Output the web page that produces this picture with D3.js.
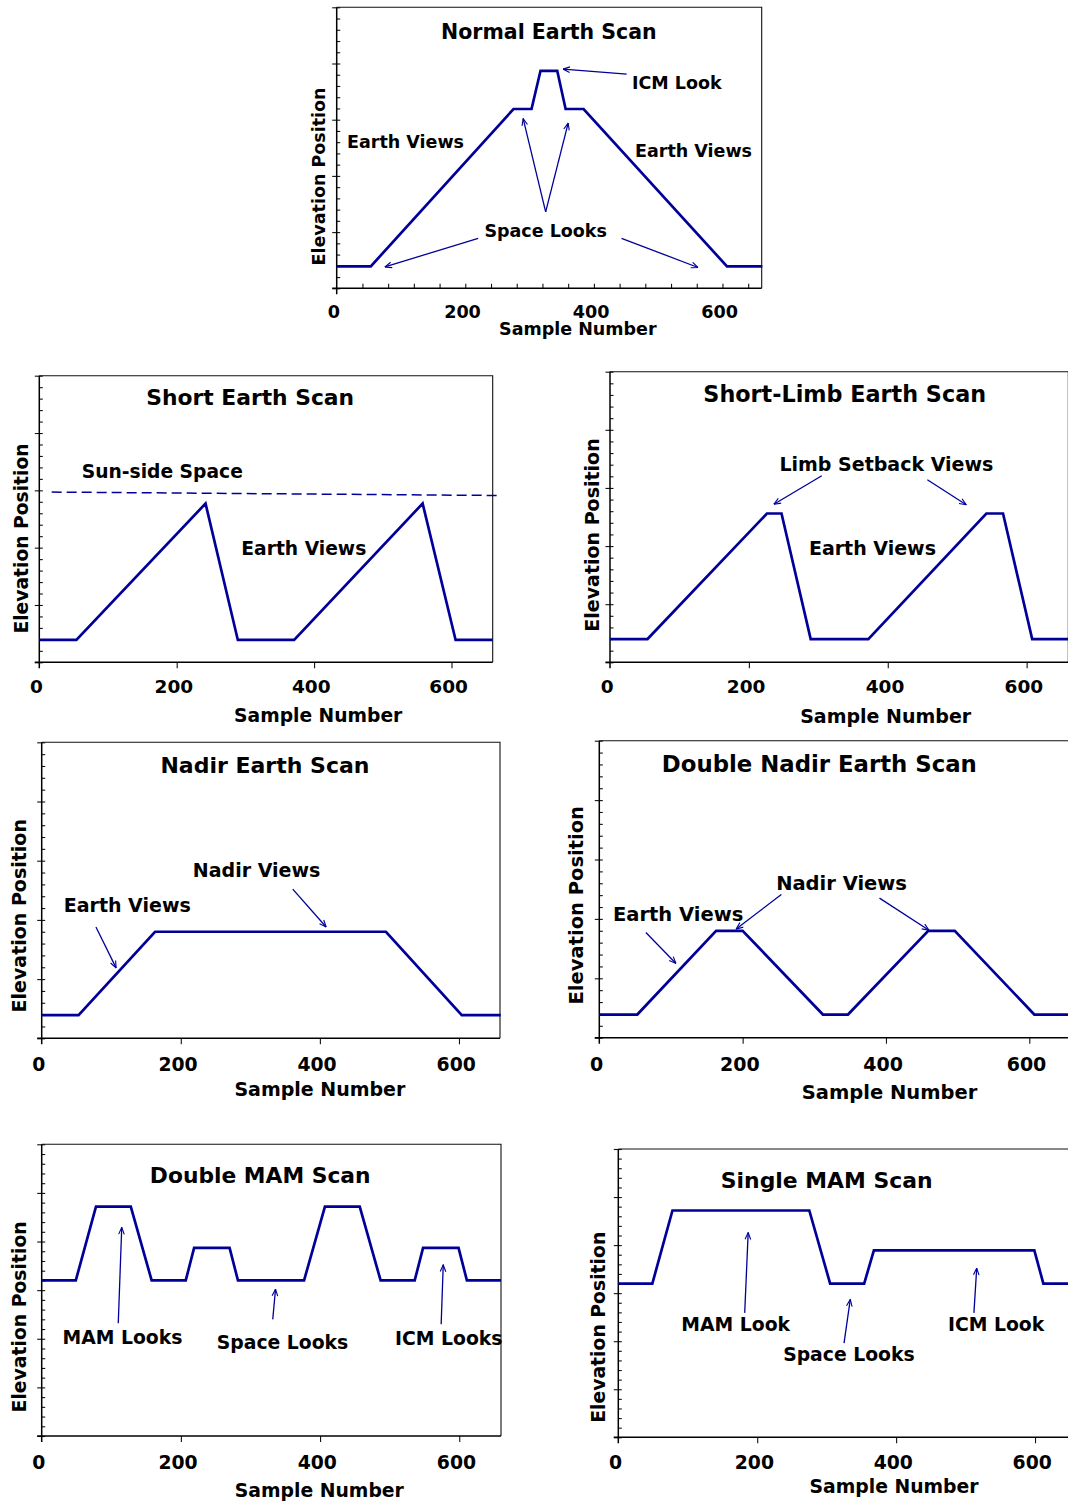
<!DOCTYPE html>
<html>
<head>
<meta charset="utf-8">
<script src="https://cdn.jsdelivr.net/npm/d3@7"></script>
<style>
  body { margin: 0; background: #fff; }
  svg { display: block; }
</style>
</head>
<body>
<div id="chart-area"></div>
<script>
// scan profiles: sample number vs elevation position
let normalX = [0, 53, 275, 303, 317, 343, 356, 384, 607, 662]
let normalY = [0.39, 0.39, 3.19, 3.19, 3.87, 3.87, 3.19, 3.19, 0.39, 0.39]

let shortX = [0, 54, 242, 289, 371, 558, 606, 660]
let shortY = [0.39, 0.39, 2.77, 0.39, 0.39, 2.77, 0.39, 0.39]
let sunSideX = [18, 668]
let sunSideY = [2.97, 2.91]

let limbX = [0, 54, 226, 247, 289, 372, 542, 566, 608, 660]
let limbY = [0.40, 0.40, 2.56, 2.56, 0.40, 0.40, 2.56, 2.56, 0.40, 0.40]

let nadirX = [0, 53, 163, 495, 604, 660]
let nadirY = [0.39, 0.39, 1.80, 1.80, 0.39, 0.39]

let dblNadirX = [0, 53, 163, 200, 312, 347, 459, 496, 607, 660]
let dblNadirY = [0.39, 0.39, 1.80, 1.80, 0.39, 0.39, 1.80, 1.80, 0.39, 0.39]

let dblMamX = [0, 49, 78, 128, 158, 207, 219, 270, 282, 377, 407, 457, 487, 536, 548, 599, 611, 660]
let dblMamY = [3.2, 3.2, 4.72, 4.72, 3.2, 3.2, 3.87, 3.87, 3.2, 3.2, 4.72, 4.72, 3.2, 3.2, 3.87, 3.87, 3.2, 3.2]

let singleMamX = [0, 49, 78, 275, 305, 354, 368, 599, 612, 660]
let singleMamY = [3.2, 3.2, 4.72, 4.72, 3.2, 3.2, 3.89, 3.89, 3.2, 3.2]

let xTickLabels = [0, 200, 400, 600]

// annotations, in data units
let normalNotes = [
  { text: "Normal Earth Scan", x: 330, y: 4.56, title: true },
  { text: "ICM Look", x: 529, y: 3.65 },
  { text: "Earth Views", x: 107, y: 2.60 },
  { text: "Earth Views", x: 555, y: 2.44 },
  { text: "Space Looks", x: 325, y: 1.02 }
]
let normalArrows = [
  [451, 3.81, 352, 3.90],
  [325, 1.36, 290, 3.02],
  [325, 1.36, 360, 2.94],
  [220, 0.89, 75, 0.38],
  [443, 0.89, 562, 0.37]
]

let shortNotes = [
  { text: "Short Earth Scan", x: 307, y: 4.62, title: true },
  { text: "Sun-side Space", x: 179, y: 3.32 },
  { text: "Earth Views", x: 385, y: 1.99 }
]

let limbNotes = [
  { text: "Short-Limb Earth Scan", x: 338, y: 4.62, title: true },
  { text: "Limb Setback Views", x: 398, y: 3.41 },
  { text: "Earth Views", x: 378, y: 1.97 }
]
let limbArrows = [
  [305, 3.21, 236, 2.72],
  [457, 3.14, 513, 2.71]
]

let nadirNotes = [
  { text: "Nadir Earth Scan", x: 321, y: 4.60, title: true },
  { text: "Nadir Views", x: 309, y: 2.84 },
  { text: "Earth Views", x: 123, y: 2.26 }
]
let nadirArrows = [
  [361, 2.52, 409, 1.88],
  [78, 1.88, 107, 1.19]
]

let dblNadirNotes = [
  { text: "Double Nadir Earth Scan", x: 307, y: 4.60, title: true },
  { text: "Nadir Views", x: 338, y: 2.59 },
  { text: "Earth Views", x: 110, y: 2.08 }
]
let dblNadirArrows = [
  [254, 2.41, 191, 1.83],
  [391, 2.35, 460, 1.81],
  [65, 1.77, 107, 1.25]
]

let dblMamNotes = [
  { text: "Double MAM Scan", x: 314, y: 5.36, title: true },
  { text: "MAM Looks", x: 116, y: 2.03 },
  { text: "Space Looks", x: 346, y: 1.93 },
  { text: "ICM Looks", x: 585, y: 2.01 }
]
let dblMamArrows = [
  [110, 2.32, 115, 4.29],
  [332, 2.40, 336, 3.02],
  [574, 2.30, 577, 3.52]
]

let singleMamNotes = [
  { text: "Single MAM Scan", x: 300, y: 5.35, title: true },
  { text: "MAM Look", x: 169, y: 2.34 },
  { text: "Space Looks", x: 332, y: 1.73 },
  { text: "ICM Look", x: 544, y: 2.34 }
]
let singleMamArrows = [
  [182, 2.59, 187, 4.26],
  [325, 1.96, 334, 2.87],
  [512, 2.59, 516, 3.52]
]

const FONT = "'DejaVu Sans', Verdana, sans-serif"
const NAVY = "#000099"

let canvasWidth = 1068
let canvasHeight = 1502

let svg = d3.select("#chart-area").append("svg")
  .attr("width", canvasWidth)
  .attr("height", canvasHeight)

svg.append("defs").append("marker")
  .attr("id", "arrow")
  .attr("viewBox", "0 0 10 10")
  .attr("refX", 9.5)
  .attr("refY", 5)
  .attr("markerWidth", 8)
  .attr("markerHeight", 8)
  .attr("markerUnits", "userSpaceOnUse")
  .attr("orient", "auto")
  .append("path")
    .attr("d", "M1,1.5 L9.5,5 L1,8.5")
    .attr("fill", "none")
    .attr("stroke", NAVY)
    .attr("stroke-width", 1.4)

// box = [left, top, right, bottom] of the plot frame in pixels
let panels = [
  { xs: normalX, ys: normalY, notes: normalNotes, arrows: normalArrows,
    box: [336.7, 7.3, 761.7, 288.3], xMax: 661, yMax: 5, minorX: true,
    fs: 17.5, ts: 20.5, tickFs: 17.6, tickDy: 23.5, xLabelAt: 375, xLabelDy: 41, yLabelAt: 1.99, yLabelDx: 17.5 },
  { xs: shortX, ys: shortY, notes: shortNotes, arrows: [],
    dashX: sunSideX, dashY: sunSideY,
    box: [39.3, 375.7, 492.7, 662.3], xMax: 660, yMax: 5,
    fs: 18.7, ts: 21.8, tickFs: 18.5, tickDy: 24, xLabelAt: 406, xLabelDy: 53.5, yLabelAt: 2.16, yLabelDx: 18.3 },
  { xs: limbX, ys: limbY, notes: limbNotes, arrows: limbArrows,
    box: [610, 371.7, 1068.3, 662.3], xMax: 660, yMax: 5,
    fs: 19, ts: 22.3, tickFs: 18.5, tickDy: 24.5, xLabelAt: 397, xLabelDy: 53.7, yLabelAt: 2.19, yLabelDx: 18.3 },
  { xs: nadirX, ys: nadirY, notes: nadirNotes, arrows: nadirArrows,
    box: [41.7, 742.3, 500, 1038.3], xMax: 659, yMax: 5,
    fs: 19, ts: 22, tickFs: 18.8, tickDy: 26, xLabelAt: 400, xLabelDy: 50.7, yLabelAt: 2.07, yLabelDx: 22.4 },
  { xs: dblNadirX, ys: dblNadirY, notes: dblNadirNotes, arrows: dblNadirArrows,
    box: [599.3, 740.7, 1072.3, 1037.7], xMax: 660, yMax: 5,
    fs: 19.5, ts: 22.8, tickFs: 19, tickDy: 26.6, xLabelAt: 405, xLabelDy: 54.6, yLabelAt: 2.23, yLabelDx: 22.6 },
  { xs: dblMamX, ys: dblMamY, notes: dblMamNotes, arrows: dblMamArrows,
    box: [41.7, 1144.3, 501, 1436], xMax: 660, yMax: 6,
    fs: 18.8, ts: 21.8, tickFs: 18.8, tickDy: 26.7, xLabelAt: 399, xLabelDy: 54, yLabelAt: 2.45, yLabelDx: 22.4 },
  { xs: singleMamX, ys: singleMamY, notes: singleMamNotes, arrows: singleMamArrows,
    box: [618.3, 1149, 1076.7, 1437.3], xMax: 660, yMax: 6,
    fs: 18.8, ts: 21.9, tickFs: 18.8, tickDy: 25.4, xLabelAt: 397, xLabelDy: 49.4, yLabelAt: 2.29, yLabelDx: 20 }
]

panels.forEach(p => drawPanel(p))

function drawPanel(p) {
  let [left, top, right, bottom] = p.box

  let x = d3.scaleLinear()
    .domain([0, p.xMax])
    .range([left, right])

  let y = d3.scaleLinear()
    .domain([0, p.yMax])
    .range([bottom, top])

  let g = svg.append("g")

  // top and right edges of the frame
  g.append("path")
    .attr("d", "M" + left + "," + top + "H" + right + "V" + bottom)
    .attr("fill", "none")
    .attr("stroke", "#111")
    .attr("stroke-width", 1.1)

  // y ticks: minor ones inside, major ones crossing the axis
  let yMinor = d3.range(0, p.yMax * 5 + 1).map(i => i / 5)
  let yMajor = d3.range(0, p.yMax + 1)
  g.append("g")
    .attr("transform", "translate(" + left + ",0)")
    .call(d3.axisLeft(y).tickValues(yMinor).tickSize(-3.5).tickFormat(""))
    .call(a => a.select(".domain").remove())
  g.append("g")
    .attr("transform", "translate(" + left + ",0)")
    .call(d3.axisLeft(y).tickValues(yMajor).tickSize(4.5).tickFormat(""))
    .call(a => a.select(".domain").remove())

  // x ticks
  if (p.minorX) {
    g.append("g")
      .attr("transform", "translate(0," + bottom + ")")
      .call(d3.axisBottom(x).tickValues(d3.range(40, p.xMax, 40)).tickSize(-4.5).tickFormat(""))
      .call(a => a.select(".domain").remove())
  } else {
    g.append("g")
      .attr("transform", "translate(0," + bottom + ")")
      .call(d3.axisBottom(x).tickValues(xTickLabels.slice(1)).tickSize(6).tickFormat(""))
      .call(a => a.select(".domain").remove())
  }
  g.selectAll(".tick line").attr("stroke", "#111").attr("stroke-width", 1.1)

  // tick labels
  let labels = g.append("g")
    .attr("transform", "translate(0," + bottom + ")")
    .call(d3.axisBottom(x).tickValues(xTickLabels).tickSize(0).tickFormat(d3.format("d")))
  labels.select(".domain").remove()
  labels.selectAll("text")
    .attr("x", -3.3)
    .attr("y", p.tickDy)
    .attr("dy", null)
    .attr("dominant-baseline", "central")
    .attr("font-family", FONT)
    .attr("font-weight", "bold")
    .attr("font-size", p.tickFs)
    .attr("fill", "#000")

  // axis lines
  g.append("line")
    .attr("x1", left).attr("x2", left)
    .attr("y1", top).attr("y2", bottom + 6)
    .attr("stroke", "#000").attr("stroke-width", 1.5)
  g.append("line")
    .attr("x1", left - 4.5).attr("x2", right)
    .attr("y1", bottom).attr("y2", bottom)
    .attr("stroke", "#000").attr("stroke-width", 1.5)

  // axis titles
  g.append("text")
    .attr("x", x(p.xLabelAt))
    .attr("y", bottom + p.xLabelDy)
    .attr("text-anchor", "middle")
    .attr("dominant-baseline", "central")
    .attr("font-family", FONT)
    .attr("font-weight", "bold")
    .attr("font-size", p.fs)
    .text("Sample Number")

  g.append("text")
    .attr("transform", "translate(" + (left - p.yLabelDx) + "," + y(p.yLabelAt) + ") rotate(-90)")
    .attr("text-anchor", "middle")
    .attr("dominant-baseline", "central")
    .attr("font-family", FONT)
    .attr("font-weight", "bold")
    .attr("font-size", p.fs)
    .text("Elevation Position")

  // sun-side space boundary
  if (p.dashX) {
    g.append("path")
      .datum(d3.zip(p.dashX, p.dashY))
      .attr("d", d3.line().x(d => x(d[0])).y(d => y(d[1])))
      .attr("fill", "none")
      .attr("stroke", NAVY)
      .attr("stroke-width", 1.5)
      .attr("stroke-dasharray", "10,5")
  }

  // the scan profile
  g.append("path")
    .datum(d3.zip(p.xs, p.ys))
    .attr("d", d3.line().x(d => x(d[0])).y(d => y(d[1])))
    .attr("fill", "none")
    .attr("stroke", NAVY)
    .attr("stroke-width", 2.7)
    .attr("stroke-linejoin", "miter")

  // arrows
  g.selectAll(".arrow")
    .data(p.arrows)
    .enter()
    .append("line")
      .attr("x1", d => x(d[0]))
      .attr("y1", d => y(d[1]))
      .attr("x2", d => x(d[2]))
      .attr("y2", d => y(d[3]))
      .attr("stroke", NAVY)
      .attr("stroke-width", 1.3)
      .attr("marker-end", "url(#arrow)")

  // labels and title
  g.selectAll(".note")
    .data(p.notes)
    .enter()
    .append("text")
      .attr("x", d => x(d.x))
      .attr("y", d => y(d.y))
      .attr("text-anchor", "middle")
      .attr("dominant-baseline", "central")
      .attr("font-family", FONT)
      .attr("font-weight", "bold")
      .attr("font-size", d => d.title ? p.ts : p.fs)
      .attr("fill", "#000")
      .text(d => d.text)
}
</script>
</body>
</html>
